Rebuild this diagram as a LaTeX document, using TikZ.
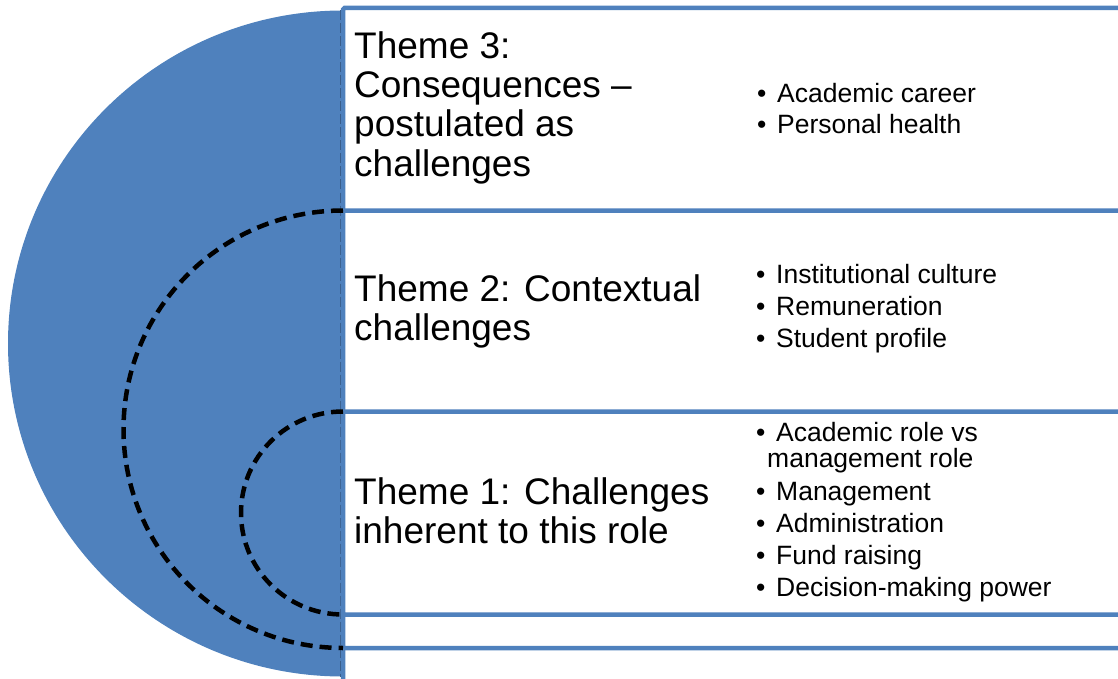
\documentclass[tikz,border=0pt]{standalone}
\usepackage{fontspec}
\setmainfont{Liberation Sans}
\definecolor{accent}{HTML}{4F81BD}
\newcommand\titlefont{\fontsize{37}{39}\selectfont}
\newcommand\itemfont{\fontsize{26.5}{28}\selectfont}
\newcommand\bul{\makebox[20pt][l]{\textbullet}}
\begin{document}
\begin{tikzpicture}[x=1pt,y=-1pt,
  box/.style={draw=accent, line width=4.5pt, fill=white, rounded corners=1.5pt},
  dashedarc/.style={draw=black, line width=4.5pt, dash pattern=on 12pt off 7pt},
  ttl/.style={font=\titlefont, anchor=base west, inner sep=0pt},
  itm/.style={font=\itemfont, anchor=base west, inner sep=0pt}]
\useasboundingbox (0,0) rectangle (1118,679);
\clip (0,0) rectangle (1118,679);
% big half disc
\fill[accent] (343,10.5) arc[start angle=90,end angle=180,x radius=335pt,y radius=333pt]
  arc[start angle=180,end angle=270,x radius=335pt,y radius=333pt] -- cycle;
\draw[accent!70!black, line width=0.8pt, dash pattern=on 10pt off 3pt] (340,10.5) -- (340,676.5);
% nested boxes
\draw[box] (343,8) rectangle (1140,720);
\draw[box] (343,210.5) rectangle (1140,648);
\draw[box] (343,411.5) rectangle (1140,614.5);
% dashed arcs
\draw[dashedarc] (343,210.5) arc[start angle=90,end angle=270,x radius=219.5pt,y radius=218.75pt];
\draw[dashedarc] (343,411.5) arc[start angle=90,end angle=270,x radius=102pt,y radius=101.5pt];
% theme 3
\node[ttl] (t3a) at (354,59) {Theme 3:};
\node[ttl] (t3b) at (354,98) {Consequences --};
\node[ttl] (t3c) at (354,137) {postulated as};
\node[ttl] (t3d) at (354,176) {challenges};
\node[itm] (i3a) at (757,102.5) {\bul Academic career};
\node[itm] (i3b) at (757,133.5) {\bul Personal health};
% theme 2
\node[ttl] (t2a) at (354,301) {Theme 2: Contextual};
\node[ttl] (t2b) at (354,340) {challenges};
\node[itm] (i2a) at (756,283.5) {\bul Institutional culture};
\node[itm] (i2b) at (756,315.5) {\bul Remuneration};
\node[itm] (i2c) at (756,347) {\bul Student profile};
% theme 1
\node[ttl] (t1a) at (354,504) {Theme 1: Challenges};
\node[ttl] (t1b) at (354,543) {inherent to this role};
\node[itm] (i1a) at (756,441) {\bul Academic role vs};
\node[itm] (i1b) at (767,467.5) {management role};
\node[itm] (i1c) at (756,500) {\bul Management};
\node[itm] (i1d) at (756,532) {\bul Administration};
\node[itm] (i1e) at (756,564) {\bul Fund raising};
\node[itm] (i1f) at (756,596) {\bul Decision-making power};
\end{tikzpicture}
\end{document}
